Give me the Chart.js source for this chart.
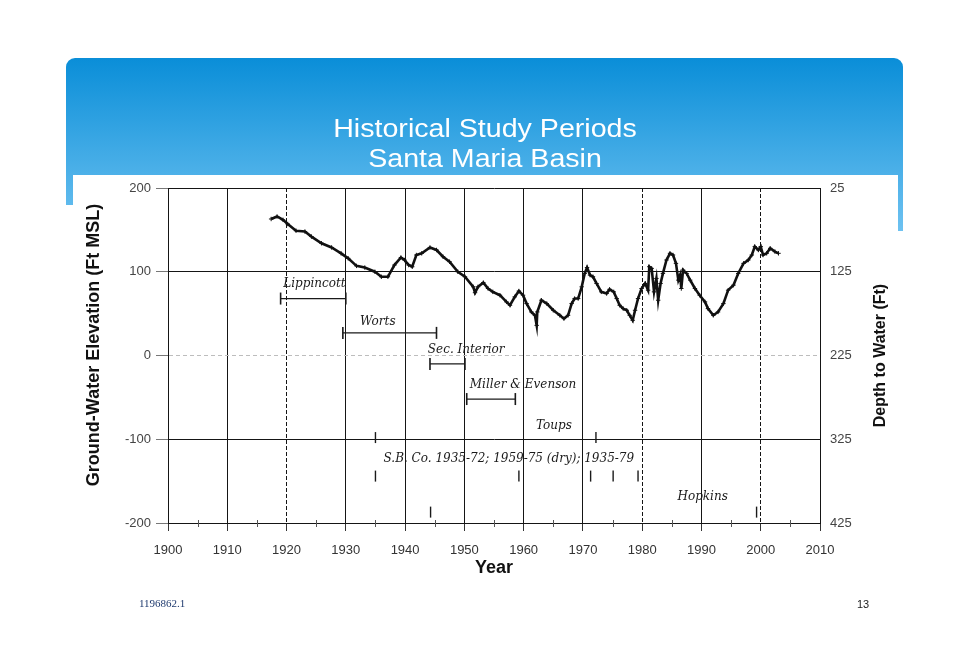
<!DOCTYPE html>
<html>
<head>
<meta charset="utf-8">
<script src="https://cdn.jsdelivr.net/npm/chart.js@4.4.0/dist/chart.umd.min.js"></script>
<style>
  html, body { margin: 0; padding: 0; background: #fff; }
  canvas { display: block; }
</style>
</head>
<body>
<canvas id="basinChart" width="968" height="663"></canvas>
<script>
// Ground-water elevation record
const years = [1917.4, 1918.4, 1919.4, 1920.2, 1921.6, 1923.1, 1924.2, 1925.9, 1927.6, 1929.2,
    1930.4, 1931.8, 1933.2, 1934.9, 1936.0, 1937.1, 1938.2, 1939.3, 1939.9, 1940.6,
    1941.2, 1941.9, 1942.8, 1944.2, 1945.3, 1946.4, 1947.5, 1948.9, 1950.1, 1951.5,
    1951.8, 1952.3, 1953.2, 1954.0, 1954.8, 1956.0, 1957.1, 1957.7, 1958.5, 1959.2,
    1959.9, 1960.5, 1961.3, 1961.9, 1962.2, 1962.3, 1963.0, 1963.9, 1965.0, 1966.1,
    1966.8, 1967.5, 1968.1, 1968.6, 1969.2, 1969.8, 1970.3, 1970.7, 1971.2, 1971.7,
    1972.3, 1973.1, 1974.0, 1974.5, 1975.2, 1975.7, 1976.2, 1976.8, 1977.4, 1977.9,
    1978.4, 1978.8, 1979.3, 1979.9, 1980.5, 1981.0, 1981.2, 1981.6, 1982.0, 1982.4,
    1982.7, 1983.1, 1983.5, 1984.1, 1984.7, 1985.2, 1985.7, 1986.1, 1986.4, 1986.6,
    1986.9, 1987.5, 1988.1, 1988.9, 1989.7, 1990.6, 1991.1, 1992.0, 1992.8, 1993.7,
    1994.5, 1995.4, 1996.2, 1997.1, 1997.9, 1998.5, 1999.0, 1999.6, 2000.0, 2000.4,
    2001.0, 2001.6, 2002.4, 2003.0];
const elevation = [163, 166, 162, 157, 149, 148, 142, 134, 129, 122,
    116, 107, 105, 100, 94, 94, 108, 117, 114, 108,
    106, 120, 122, 129, 126, 118, 112, 100, 94, 82,
    75, 82, 87, 80, 76, 72, 64, 60, 70, 77,
    72, 62, 52, 48, 36, 52, 66, 62, 54, 48,
    44, 48, 62, 68, 68, 82, 98, 105, 96, 94,
    86, 76, 74, 79, 76, 68, 60, 56, 54, 48,
    42, 54, 68, 80, 86, 78, 106, 104, 76, 92,
    66, 86, 98, 114, 122, 120, 110, 90, 96, 80,
    102, 98, 90, 80, 72, 64, 56, 48, 52, 62,
    78, 84, 98, 110, 114, 120, 130, 126, 130, 120,
    122, 128, 124, 122];

// Study periods shown as bars
const periodNames = ['Lippincott', 'Worts', 'Sec. Interior', 'Miller & Evenson'];
const periodStart = [1919, 1929.5, 1944.2, 1950.4];
const periodEnd = [1930, 1945.3, 1950.1, 1958.6];
const periodLevel = [68, 27, -10, -52];

// Study periods shown as tick marks only
const toupsYears = [1935, 1972.2];
const toupsLevel = -98;
const sbcoYears = [1935, 1959.2, 1971.3, 1975.1, 1979.3];
const sbcoLevel = -144;
const hopkinsYears = [1944.3, 1999.3];
const hopkinsLevel = -187;

// Labels (text, year, elevation)
const labelText = ['Lippincott', 'Worts', 'Sec. Interior', 'Miller & Evenson', 'Toups',
    'S.B. Co. 1935-72; 1959-75 (dry); 1935-79', 'Hopkins'];
const labelYear = [1924.7, 1935.4, 1950.3, 1959.9, 1965.1, 1957.5, 1990.2];
const labelElev = [86, 40, 7, -35, -84, -124, -169];

// Axes
const yearTicks = [1900, 1910, 1920, 1930, 1940, 1950, 1960, 1970, 1980, 1990, 2000, 2010];
const minorYears = [1905, 1915, 1925, 1935, 1945, 1955, 1965, 1975, 1985, 1995, 2005];
const dashedYears = [1920, 1980, 2000];
const elevTicks = [-200, -100, 0, 100, 200];
const depthTicks = [25, 125, 225, 325, 425];

const tickFont = {family: 'Liberation Sans, Arial, sans-serif', size: 13};
const titleFont = {family: 'Liberation Sans, Arial, sans-serif', size: 18, weight: 'bold'};

const curveData = years.map((yr, i) => ({x: yr, y: elevation[i]}));

const periodDatasets = periodNames.map((name, i) => ({
    label: name,
    data: [{x: periodStart[i], y: periodLevel[i]}, {x: periodEnd[i], y: periodLevel[i]}],
    borderColor: '#1a1a1a',
    borderWidth: 1.3,
    pointStyle: 'line',
    pointRotation: 90,
    pointRadius: 6,
    pointBorderWidth: 1.6,
    pointBorderColor: '#1a1a1a',
}));

const markDataset = (label, yrs, level) => ({
    label: label,
    data: yrs.map(yr => ({x: yr, y: level})),
    showLine: false,
    pointStyle: 'line',
    pointRotation: 90,
    pointRadius: 5.5,
    pointBorderWidth: 1.4,
    pointBorderColor: '#1a1a1a',
});

// draw a vertical axis title reading bottom to top
function sideTitle(ctx, text, x, y, size) {
    ctx.save();
    ctx.translate(x, y);
    ctx.rotate(-Math.PI / 2);
    ctx.fillStyle = '#111';
    ctx.font = 'bold ' + size + 'px "Liberation Sans", Arial, sans-serif';
    ctx.textAlign = 'center';
    ctx.textBaseline = 'middle';
    ctx.fillText(text, 0, 0);
    ctx.restore();
}

// Slide background, header and footer
const slidePlugin = {
    id: 'slide',
    beforeDraw(chart) {
        const {ctx} = chart;
        ctx.save();
        ctx.fillStyle = '#fff';
        ctx.fillRect(0, 0, chart.width, chart.height);

        const grad = ctx.createLinearGradient(0, 58, 0, 232);
        grad.addColorStop(0, '#0a8ed8');
        grad.addColorStop(1, '#6ec2f1');
        ctx.fillStyle = grad;
        ctx.beginPath();
        ctx.roundRect(66, 58, 837, 117, [9, 9, 0, 0]);
        ctx.fill();
        ctx.fillRect(66, 174, 7, 31);
        ctx.fillRect(898, 174, 5, 57);

        // title, stretched a little wider like the slide's font
        ctx.fillStyle = '#fff';
        ctx.textAlign = 'center';
        ctx.font = '26px "Liberation Sans", Arial, sans-serif';
        ctx.save();
        ctx.translate(485, 0);
        ctx.scale(1.1, 1);
        ctx.fillText('Historical Study Periods', 0, 137);
        ctx.fillText('Santa Maria Basin', 0, 167);
        ctx.restore();

        ctx.textAlign = 'left';
        ctx.fillStyle = '#1f3a6e';
        ctx.font = '11px "Liberation Serif", "Times New Roman", serif';
        ctx.fillText('1196862.1', 139, 607);
        ctx.fillStyle = '#222';
        ctx.font = '11px "Liberation Sans", Arial, sans-serif';
        ctx.fillText('13', 857, 608);
        ctx.restore();
    },
    afterDraw(chart) {
        const {ctx, scales: {x, y, depth}, chartArea} = chart;
        ctx.save();
        ctx.strokeStyle = '#555';
        ctx.lineWidth = 1;
        minorYears.forEach(yr => {
            const px = Math.round(x.getPixelForValue(yr)) + 0.5;
            ctx.beginPath();
            ctx.moveTo(px, chartArea.bottom - 3);
            ctx.lineTo(px, chartArea.bottom + 4);
            ctx.stroke();
        });
        ctx.restore();

        sideTitle(ctx, 'Ground-Water Elevation (Ft MSL)', y.left + 15, chartArea.top + 157, 18);
        sideTitle(ctx, 'Depth to Water (Ft)', depth.right - 19, (chartArea.top + chartArea.bottom) / 2, 16);
    },
};

// Period names written at data positions
const labelPlugin = {
    id: 'periodLabels',
    afterDatasetsDraw(chart) {
        const {ctx, scales: {x, y}} = chart;
        ctx.save();
        ctx.fillStyle = '#1a1a1a';
        ctx.font = 'italic 12px "DejaVu Serif", serif';
        ctx.textAlign = 'center';
        ctx.textBaseline = 'middle';
        labelText.forEach((text, i) => {
            ctx.fillText(text, x.getPixelForValue(labelYear[i]), y.getPixelForValue(labelElev[i]));
        });
        ctx.restore();
    },
};

new Chart(document.getElementById('basinChart').getContext('2d'), {
    type: 'line',
    data: {
        datasets: [
            {
                label: 'Ground-water elevation',
                data: curveData,
                borderColor: '#111',
                borderWidth: 2.6,
                pointStyle: 'cross',
                pointRadius: 2.2,
                pointBorderWidth: 1,
                pointBorderColor: '#111',
                tension: 0,
            },
            ...periodDatasets,
            markDataset('Toups', toupsYears, toupsLevel),
            markDataset('S.B. Co.', sbcoYears, sbcoLevel),
            markDataset('Hopkins', hopkinsYears, hopkinsLevel),
        ],
    },
    options: {
        responsive: false,
        animation: false,
        devicePixelRatio: 1,
        layout: {padding: {left: 79, right: 68, top: 188, bottom: 80.6}},
        plugins: {legend: {display: false}, tooltip: {enabled: false}},
        scales: {
            x: {
                type: 'linear',
                min: 1900,
                max: 2010,
                afterBuildTicks: s => { s.ticks = yearTicks.map(v => ({value: v})); },
                afterFit: s => { s.height = 59.4; },
                grid: {color: '#151515', lineWidth: 1, tickLength: 8, tickColor: '#333'},
                border: {
                    color: '#151515',
                    dash: ctx => (ctx.tick && dashedYears.includes(ctx.tick.value)) ? [4, 2] : [],
                },
                ticks: {
                    font: tickFont, color: '#333', padding: 12, maxRotation: 0, autoSkip: false,
                    callback: v => String(v),
                },
                title: {display: true, text: 'Year', font: titleFont, color: '#111', padding: {top: 4, bottom: 4}},
            },
            y: {
                position: 'left',
                min: -200,
                max: 200,
                afterBuildTicks: s => { s.ticks = elevTicks.map(v => ({value: v})); },
                afterFit: s => { s.width = 89; },
                grid: {
                    color: ctx => (ctx.tick && ctx.tick.value === 0) ? '#bdbdbd' : '#151515',
                    lineWidth: 1,
                    tickLength: 12,
                    tickColor: '#777',
                },
                border: {
                    color: '#151515',
                    dash: ctx => (ctx.tick && ctx.tick.value === 0) ? [4, 3] : [],
                },
                ticks: {font: tickFont, color: '#444', padding: 5},
            },
            depth: {
                position: 'right',
                reverse: true,
                min: 25,
                max: 425,
                afterBuildTicks: s => { s.ticks = depthTicks.map(v => ({value: v})); },
                afterFit: s => { s.width = 80; },
                grid: {drawOnChartArea: false, drawTicks: false},
                border: {color: '#151515'},
                ticks: {font: tickFont, color: '#444', padding: 10},
            },
        },
    },
    plugins: [slidePlugin, labelPlugin],
});
</script>
</body>
</html>
